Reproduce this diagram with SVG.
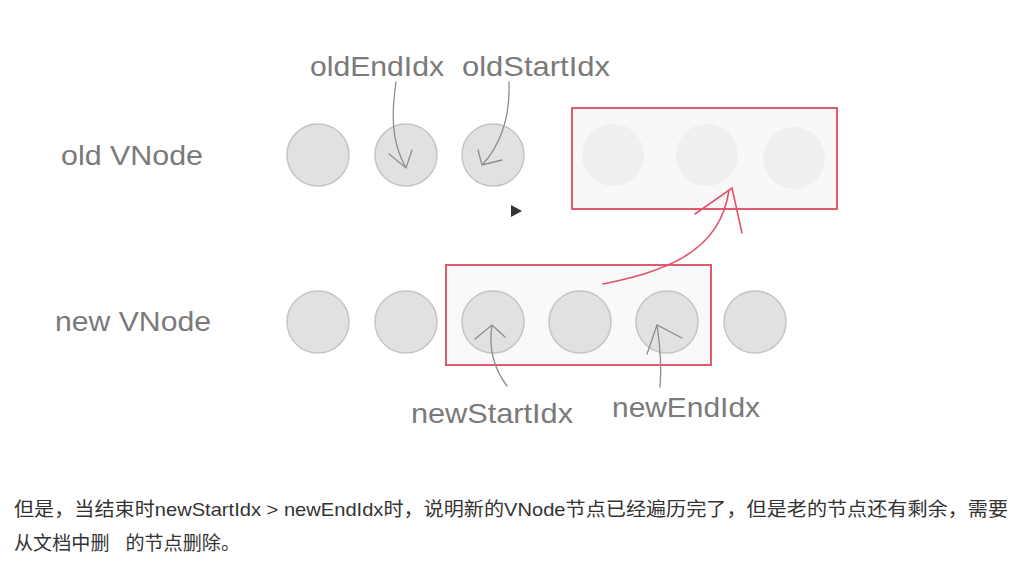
<svg xmlns="http://www.w3.org/2000/svg" width="1023" height="561" viewBox="0 0 1023 561">
<defs>
<style>
.lbl{font-family:"Liberation Sans","Noto Sans",sans-serif;font-size:28px;fill:#7a7a7a;}
.c{fill:#e1e1e1;stroke:#c4c4c4;stroke-width:1.5;}
.f{fill:#efefef;}
.box{fill:#f8f8f8;stroke:#e05a70;stroke-width:2;}
.box2{fill:none;stroke:#e05a70;stroke-width:2;}
.ga{fill:none;stroke:#8c8c8c;stroke-width:1.3;stroke-linecap:round;}
.pa{fill:none;stroke:#e4506a;stroke-width:1.6;stroke-linecap:round;}
.cap{font-family:"Liberation Sans","Noto Sans CJK SC",sans-serif;font-size:19px;fill:#333;}
</style>
</defs>
<rect width="1023" height="561" fill="#ffffff"/>
<g id="old-label"><text class="lbl" x="61" y="165" textLength="142" lengthAdjust="spacingAndGlyphs">old VNode</text></g>
<g id="new-label"><text class="lbl" x="55" y="331" textLength="156" lengthAdjust="spacingAndGlyphs">new VNode</text></g>
<g id="old-nodes">
<circle class="c" cx="318" cy="155" r="31"/>
<circle class="c" cx="406" cy="155" r="31"/>
<circle class="c" cx="493" cy="155" r="31"/>
</g>
<g id="old-remaining">
<rect class="box" x="572" y="108" width="265" height="101"/>
<circle class="f" cx="613" cy="155" r="31"/>
<circle class="f" cx="707" cy="155" r="31"/>
<circle class="f" cx="794" cy="158" r="31"/>
</g>
<g id="new-nodes">
<rect x="446" y="265" width="265" height="100" fill="#f9f9f9"/>
<circle class="c" cx="318" cy="322" r="31"/>
<circle class="c" cx="406" cy="322" r="31"/>
<circle class="c" cx="493" cy="322" r="31"/>
<circle class="c" cx="580" cy="322" r="31"/>
<circle class="c" cx="667" cy="322" r="31"/>
<circle class="c" cx="755" cy="322" r="31"/>
<rect class="box2" x="446" y="265" width="265" height="100"/>
</g>
<g id="pointer-labels">
<text class="lbl" x="310" y="76" textLength="134" lengthAdjust="spacingAndGlyphs">oldEndIdx</text>
<text class="lbl" x="462" y="76" textLength="148" lengthAdjust="spacingAndGlyphs">oldStartIdx</text>
<text class="lbl" x="411" y="423" textLength="162" lengthAdjust="spacingAndGlyphs">newStartIdx</text>
<text class="lbl" x="612" y="417" textLength="148" lengthAdjust="spacingAndGlyphs">newEndIdx</text>
</g>
<g id="connectors">
<path class="ga" d="M396,82 C392,110 390,140 406,168 M389,154 L406,168 L412,150"/>
<path class="ga" d="M509,82 C510,110 505,140 482,165 M478,150 L482,165 L502,160"/>
<path class="ga" d="M507,386 C495,370 488,350 492,325 M475,339 L492,325 L505,337"/>
<path class="ga" d="M660,387 C662,365 660,345 657,325 M647,354 L657,325 L682,338"/>
<path class="pa" d="M603,284 C660,272 720,255 729,190 M695,214 L732,188 L742,233"/>
</g>
<g id="play"><polygon points="511,205 522,211 511,217" fill="#333"/></g>
<g id="caption">
<text class="cap" x="14" y="516" textLength="994" lengthAdjust="spacingAndGlyphs">但是，当结束时newStartIdx &gt; newEndIdx时，说明新的VNode节点已经遍历完了，但是老的节点还有剩余，需要</text>
<text class="cap" x="14" y="550" xml:space="preserve" textLength="226" lengthAdjust="spacingAndGlyphs">从文档中删   的节点删除。</text>
</g>
</svg>
